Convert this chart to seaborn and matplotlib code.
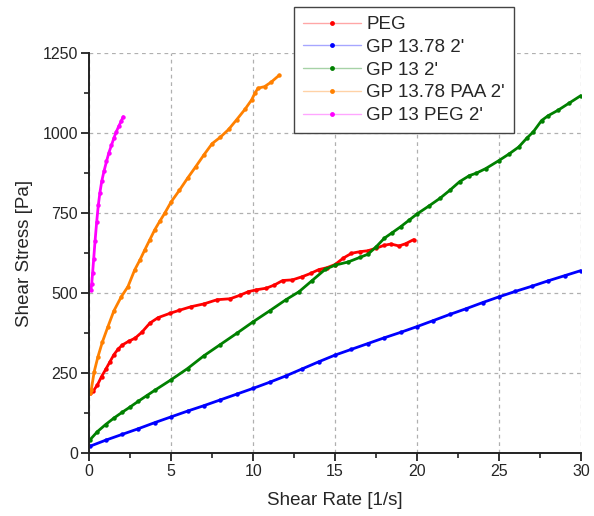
import matplotlib
matplotlib.use("Agg")
import matplotlib.pyplot as plt
import seaborn as sns
import pandas as pd
from matplotlib.lines import Line2D
from matplotlib.ticker import MultipleLocator
import matplotlib.colors as mcolors

# ---- data ----
series_names = ["PEG", "GP 13.78 2'", "GP 13 2'", "GP 13.78 PAA 2'", "GP 13 PEG 2'"]
series_colors = ["#FF0000", "#0000FF", "#008000", "#FF8000", "#FF00FF"]

peg_x = [0.04, 0.25, 0.5, 0.75, 1.0, 1.25, 1.5, 1.75, 2.0, 2.4, 2.8, 3.2, 3.7, 4.2, 4.9, 5.5,
         6.2, 7.0, 7.8, 8.6, 9.2, 9.7, 10.2, 10.8, 11.3, 11.8, 12.4, 13.0, 13.5, 14.0, 14.5,
         15.0, 15.5, 16.0, 16.5, 17.0, 17.5, 18.0, 18.4, 18.9, 19.3, 19.8]
peg_y = [187, 195, 214, 240, 262, 285, 308, 325, 338, 350, 360, 378, 407, 424, 437, 447,
         458, 467, 480, 483, 494, 505, 511, 516, 526, 540, 542, 552, 562, 574, 580,
         590, 610, 625, 630, 633, 641, 650, 654, 648, 655, 668]

gp1378_x = [0.04, 1, 2, 3, 4, 5, 6, 7, 8, 9, 10, 11, 12, 13, 14, 15, 16, 17, 18, 19, 20,
            21, 22, 23, 24, 25, 26, 27, 28, 29, 30]
gp1378_y = [22, 41, 59, 77, 96, 114, 132, 149, 167, 185, 203, 222, 242, 264, 286, 307, 325,
            343, 361, 378, 396, 415, 434, 452, 471, 489, 506, 522, 539, 555, 571]

gp13_x = [0.04, 0.5, 1.0, 1.5, 2.0, 2.5, 3.0, 3.5, 4.0, 5.0, 6.0, 7.0, 8.0, 9.0, 10.0, 11.0,
          12.0, 12.8, 13.6, 14.4, 15.0, 15.8, 16.5, 17.0, 17.5, 18.0, 18.5, 19.0, 19.5, 20.0,
          20.7, 21.4, 22.0, 22.6, 23.2, 23.6, 24.2, 25.0, 25.6, 26.2, 26.7, 27.1, 27.6, 28.0,
          28.6, 29.3, 30.0]
gp13_y = [42, 68, 90, 110, 128, 145, 163, 180, 197, 230, 265, 305, 340, 375, 411, 445,
          480, 505, 540, 575, 588, 598, 612, 622, 645, 672, 690, 708, 728, 748,
          772, 797, 822, 849, 868, 875, 890, 915, 935, 957, 985, 1005, 1040, 1055,
          1072, 1095, 1118]

paa_x = [0.04, 0.12, 0.3, 0.53, 0.8, 1.14, 1.5, 1.95, 2.36, 2.77, 3.1, 3.38, 3.7, 3.99,
         4.3, 4.6, 5.0, 5.5, 6.0, 6.5, 7.0, 7.5, 8.0, 8.5, 9.0, 9.5, 9.9, 10.1, 10.3, 10.7,
         11.1, 11.6]
paa_y = [187, 198, 255, 302, 348, 396, 445, 489, 521, 573, 605, 635, 668, 698,
         725, 750, 786, 822, 860, 896, 933, 968, 988, 1012, 1043, 1075, 1104, 1125, 1141, 1146,
         1160, 1182]

pegmix_x = [0.10, 0.15, 0.2, 0.27, 0.35, 0.45, 0.55, 0.65, 0.76, 0.9, 1.05, 1.2, 1.35, 1.5,
            1.65, 1.8, 1.95, 2.07]
pegmix_y = [510, 530, 562, 608, 662, 722, 775, 815, 850, 882, 912, 940, 962, 985,
            1005, 1022, 1038, 1052]

x_ticks = [0, 5, 10, 15, 20, 25, 30]
y_ticks = [0, 250, 500, 750, 1000, 1250]
x_label = "Shear Rate [1/s]"
y_label = "Shear Stress [Pa]"

all_x = [peg_x, gp1378_x, gp13_x, paa_x, pegmix_x]
all_y = [peg_y, gp1378_y, gp13_y, paa_y, pegmix_y]
frames = []
for name, xs, ys in zip(series_names, all_x, all_y):
    frames.append(pd.DataFrame({"rate": xs, "stress": ys, "series": name}))
df = pd.concat(frames, ignore_index=True)

# ---- style ----
sns.set_theme(style="white")
plt.rcParams["font.family"] = ["Liberation Sans", "DejaVu Sans"]

fig = plt.figure(figsize=(5.94, 5.16), dpi=100)
ax = fig.add_axes([0.1503, 0.1215, 0.978 - 0.1503, 0.8967 - 0.1215])

palette = dict(zip(series_names, series_colors))
sns.lineplot(data=df, x="rate", y="stress", hue="series", palette=palette,
             hue_order=series_names, estimator=None, sort=False,
             linewidth=2.0, marker="o", markersize=3.2, markeredgewidth=0,
             legend=False, ax=ax)

ax.set_xlim(0, 30)
ax.set_ylim(0, 1250)
ax.set_xticks(x_ticks)
ax.set_yticks(y_ticks)
ax.xaxis.set_minor_locator(MultipleLocator(2.5))
ax.yaxis.set_minor_locator(MultipleLocator(125))
ax.tick_params(axis="both", which="major", direction="out", length=6, width=1.3,
               color="#222222", labelsize=11.5, pad=2, bottom=True, left=True)
ax.tick_params(axis="both", which="minor", direction="out", length=3.5, width=1.2,
               color="#222222", bottom=True, left=True)
ax.grid(True, which="major", linestyle=(0, (3, 3)), color="#b0b0b0", linewidth=0.9)
for s in ["top", "right"]:
    ax.spines[s].set_visible(False)
for s in ["left", "bottom"]:
    ax.spines[s].set_color("#222222")
    ax.spines[s].set_linewidth(1.4)

ax.set_xlabel(x_label, fontsize=13.5, labelpad=9)
ax.set_ylabel(y_label, fontsize=13.5, labelpad=7)

handles = []
for name, c in zip(series_names, series_colors):
    light = mcolors.to_rgba(c, 0.35)
    handles.append(Line2D([0], [0], color=light, linewidth=1.0, marker="o",
                          markersize=3.5, markerfacecolor=c, markeredgewidth=0))
leg = fig.legend(handles, series_names, loc="upper left",
                 bbox_to_anchor=(293.5 / 594, 1 - 7 / 516), fontsize=13.5,
                 frameon=True, fancybox=False, framealpha=1, edgecolor="#444444",
                 handlelength=3.1, handletextpad=0.3, labelspacing=0.3,
                 borderpad=0.48, borderaxespad=0)
leg.get_frame().set_linewidth(1.0)

fig.savefig("out.png", dpi=100)
